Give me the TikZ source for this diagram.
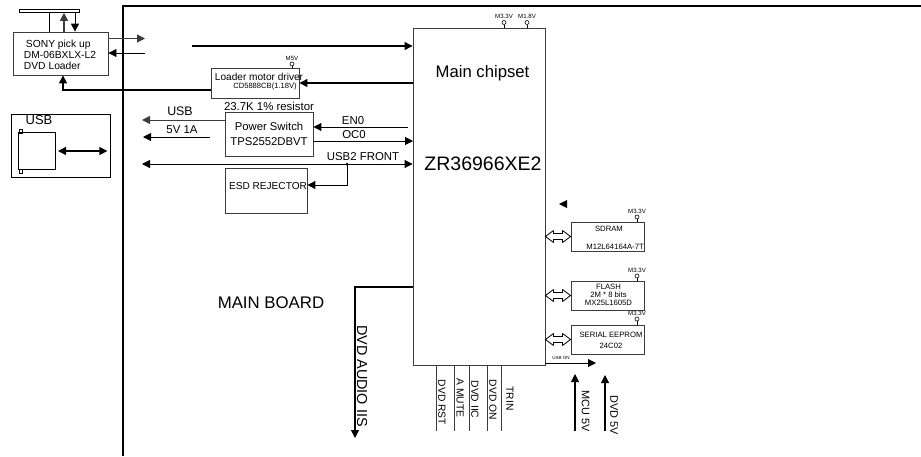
\documentclass[tikz,border=0pt]{standalone}
\usepackage{fontspec}
\setmainfont{Liberation Sans}
\usetikzlibrary{arrows.meta, positioning, calc}
\definecolor{boxgray}{RGB}{60, 60, 60}
\tikzset{
    blockbox/.style={draw=boxgray, line width=0.9pt, inner sep=0pt, align=center},
    pinmark/.style={circle, draw=black, line width=0.6pt, minimum size=4pt, inner sep=0pt},
    pintext/.style={inner sep=0pt, font=\fontsize{6.1}{7}\selectfont},
    labeltext/.style={inner sep=0pt, font=\fontsize{11.4}{13}\selectfont},
    memtext/.style={inner sep=0pt, align=center, font=\fontsize{7.7}{8}\selectfont},
    sidetext/.style={inner sep=0pt, rotate=-90, font=\fontsize{10.3}{12}\selectfont},
    sigline/.style={line width=1pt, -{Triangle[length=8pt, width=8pt]}},
    sigboth/.style={line width=1pt, {Triangle[length=8pt, width=8pt]}-{Triangle[length=8pt, width=8pt]}},
    busarrow/.style={draw=black, fill=white, line width=0.8pt, miter limit=2},
    plainline/.style={line width=0.8pt}
}

\begin{document}
\begin{tikzpicture}[x=1pt, y=-1pt]
    \useasboundingbox (0, 0) rectangle (921, 456);

    % Main board frame
    \coordinate (frametop) at (921, 6);
    \coordinate (framecorner) at (123, 6);
    \coordinate (framebottom) at (123, 456);
    \draw[line width=1.3pt] (frametop) -- (framecorner) -- (framebottom);
    \node[inner sep=0pt, font=\fontsize{16.8}{19}\selectfont] (mainboard) at (271, 303) {MAIN BOARD};

    % Main chipset
    \node[blockbox, minimum width=132pt, minimum height=337pt] (chip) at (479, 196.5) {};
    \node[inner sep=0pt, font=\fontsize{16.7}{19}\selectfont] (chipname) at (482.5, 73) {Main chipset};
    \node[inner sep=0pt, font=\fontsize{19.5}{22}\selectfont] (chipcode) at (483, 164) {ZR36966XE2};

    \node[pinmark] (pin33) at (504, 22.5) {};
    \node[pinmark] (pin18) at (527, 22.5) {};
    \node[pintext, above=1pt of pin33] (pin33text) {M3.3V};
    \node[pintext, above=1pt of pin18] (pin18text) {M1.8V};
    \draw[plainline] (pin33) -- (pin33 |- chip.north);
    \draw[plainline] (pin18) -- (pin18 |- chip.north);

    % DVD loader
    \node[blockbox, line width=0.8pt, minimum width=95pt, minimum height=43pt] (sony) at (60.5, 53.5) {};
    \node[inner sep=0pt, align=left, font=\fontsize{10.3}{11}\selectfont] (sonytext) at (60, 55) {
        \hspace*{2pt}SONY pick up\\DM-06BXLX-L2\\DVD Loader};
    \node[draw, line width=0.6pt, minimum width=60pt, minimum height=3pt, inner sep=0pt] (tray) at (49, 11) {};
    \coordinate (traybar) at (49.5, 20);
    \coordinate (trayup) at (64, 20);
    \coordinate (traydown) at (75, 20);
    \draw[plainline] (traybar |- tray.south) -- (traybar |- sony.north);
    \draw[sigline, draw=boxgray, line width=1.2pt] (trayup |- sony.north) -- (trayup |- tray.south);
    \draw[sigline] (traydown |- tray.south) -- (traydown |- sony.north);

    \coordinate (sonyout) at (145, 38.5);
    \coordinate (sonyin) at (145, 53);
    \coordinate (dvdfree) at (192, 46);
    \draw[sigline, draw=boxgray] (sonyout -| sony.east) -- (sonyout);
    \draw[sigline, line width=0.7pt] (sonyin) -- (sonyin -| sony.east);
    \draw[sigline, line width=1.2pt] (dvdfree) -- (dvdfree -| chip.west);

    % Loader motor driver
    \node[blockbox, minimum width=88pt, minimum height=30pt] (loader) at (255, 83) {};
    \node[inner sep=0pt, font=\fontsize{10.1}{12}\selectfont] (loadertext) at (259, 77) {Loader motor driver};
    \node[inner sep=0pt, font=\fontsize{7.6}{9}\selectfont] (loadercode) at (265, 87) {CD5888CB(1.18V)};
    \node[pinmark] (pin5) at (292, 64) {};
    \node[pintext, above=0.5pt of pin5] (pin5text) {M5V};
    \draw[plainline] (pin5) -- (pin5 |- loader.north);
    \coordinate (loaderin) at (350, 83);
    \coordinate (loaderout) at (180, 90);
    \coordinate (sonyfeed) at (63, 60);
    \draw[sigline, line width=1.2pt] (loaderin -| chip.west) -- (loaderin -| loader.east);
    \draw[sigline, line width=1.2pt] (loaderout -| loader.west) -| (sonyfeed |- sony.south);

    % USB connector
    \node[blockbox, draw=black, line width=0.7pt, minimum width=99pt, minimum height=63pt] (usbbox) at (60.5, 145.5) {};
    \node[inner sep=0pt, font=\fontsize{13}{15}\selectfont] (usbtext) at (39, 120) {USB};
    \node[blockbox, draw=black, line width=0.6pt, minimum width=37pt, minimum height=37pt] (usbplug) at (36.5, 150.5) {};
    \node[draw, line width=0.5pt, minimum size=3.5pt, inner sep=0pt] (usbpintop) at (20.5, 131) {};
    \node[draw, line width=0.5pt, minimum size=3.5pt, inner sep=0pt] (usbpinbot) at (20.5, 171) {};
    \coordinate (usbflow) at (58, 151);
    \draw[sigboth, line width=1.2pt] (usbflow) -- ([xshift=-3pt]usbflow -| usbbox.east);

    % Power switch
    \node[blockbox, minimum width=88pt, minimum height=44pt,
          font=\fontsize{11.3}{15}\selectfont] (power) at (269, 134) {Power Switch\\TPS2552DBVT};
    \node[labeltext, above=0.5pt of power] (resistor) {23.7K 1\% resistor};
    \coordinate (usbout) at (142, 120);
    \coordinate (vbusfree) at (210, 137);
    \coordinate (vbusend) at (143, 137);
    \draw[sigline, draw=boxgray] (usbout -| power.west) -- (usbout);
    \draw[sigline] (vbusfree) -- (vbusend);
    \node[inner sep=0pt, font=\fontsize{12.4}{14}\selectfont] (usblabel) at (180, 111) {USB};
    \node[labeltext] (vbuslabel) at (182, 130) {5V 1A};

    \coordinate (enfree) at (408, 127);
    \coordinate (ocend) at (413, 141);
    \draw[sigline] (enfree) -- (enfree -| power.east);
    \draw[sigline] (ocend -| power.east) -- (ocend);
    \node[labeltext] (enlabel) at (353, 121) {EN0};
    \node[labeltext] (oclabel) at (354, 135) {OC0};

    % USB2 front and ESD
    \coordinate (frontfree) at (142, 164);
    \coordinate (frontdot) at (347, 164);
    \coordinate (esdfeed) at (330, 185);
    \draw[sigboth] (frontfree) -- (frontfree -| chip.west);
    \node[labeltext] (frontlabel) at (363, 157) {USB2 FRONT};
    \node[blockbox, minimum width=82pt, minimum height=45pt] (esd) at (266, 190.5) {};
    \node[inner sep=0pt, font=\fontsize{10.1}{12}\selectfont] (esdtext) at (268, 186) {ESD REJECTOR};
    \fill (frontdot) circle (1.5pt);
    \draw[sigline] (frontdot) |- (esdfeed -| esd.east);

    % Memories
    \node[blockbox, minimum width=73pt, minimum height=29pt] (sdram) at (607.5, 236.5) {};
    \node[memtext] (sdramtext) at (609, 229) {SDRAM};
    \node[memtext, anchor=east] (sdramcode) at (644, 247) {M12L64164A-7T};
    \node[blockbox, minimum width=73pt, minimum height=29pt] (flash) at (607.5, 295.5) {};
    \node[memtext] (flashtext) at (608.5, 295) {FLASH\\2M * 8 bits\\MX25L1605D};
    \node[blockbox, minimum width=73pt, minimum height=29pt] (eeprom) at (607.5, 339.5) {};
    \node[memtext, font=\fontsize{7.7}{11}\selectfont] (eepromtext) at (611, 340.5) {SERIAL EEPROM\\24C02};

    \foreach \name/\ypin in {sdram/217, flash/276, eeprom/319} {
        \node[pinmark] (\name pin) at (637, \ypin) {};
        \node[pintext, above=0.5pt of \name pin] (\name pintext) {M3.3V};
        \draw[plainline] (\name pin) -- (\name pin |- \name.north);
        \coordinate (busstart) at (chip.east |- \name.west);
        \draw[busarrow] (busstart) -- ++(8, -6) -- ++(0, 3) -- ($(\name.west) + (-8, -3)$) -- ++(0, -3)
            -- (\name.west) -- ++(-8, 6) -- ++(0, -3) -- ($(busstart) + (8, 3)$) -- ++(0, 3) -- cycle;
    }
    % Loose arrow head
    \fill (559, 204) -- (567, 200) -- (567, 208) -- cycle;

    % Bottom signals
    \foreach \xsig/\xtext/\sig/\ytext in {436/442/DVD RST/402.5, 454/460/A MUTE/398, 469/475/DVD IIC/399.5, 487/493/DVD ON/400, 501/510/TRIN/398.5} {
        \coordinate (sigend) at (\xsig, 431);
        \draw[plainline, draw=boxgray] (sigend |- chip.south) -- (sigend);
        \node[sidetext] at (\xtext, \ytext) {\sig};
    }
    \coordinate (audiostart) at (355, 287);
    \coordinate (audioend) at (355, 438);
    \draw[sigline, line width=1.2pt] (audiostart -| chip.west) -- (audiostart) -- (audioend);
    \node[sidetext, font=\fontsize{14.4}{16}\selectfont] (audiotext) at (362, 376) {DVD AUDIO IIS};

    \coordinate (usbon) at (596, 363);
    \draw[sigline] (usbon -| chip.east) -- (usbon);
    \node[inner sep=0pt, font=\fontsize{4.5}{5}\selectfont] (usbontext) at (561, 358) {USB ON};

    \coordinate (mcufree) at (575, 431);
    \coordinate (mcuend) at (575, 374);
    \coordinate (dvdpfree) at (605, 431);
    \coordinate (dvdpend) at (605, 375);
    \draw[sigline, line width=1.1pt] (mcufree) -- (mcuend);
    \draw[sigline, line width=1.1pt] (dvdpfree) -- (dvdpend);
    \node[sidetext, font=\fontsize{10.9}{12}\selectfont] (mcutext) at (585.5, 411.5) {MCU 5V};
    \node[sidetext, font=\fontsize{10.9}{12}\selectfont] (dvdptext) at (614, 415) {DVD 5V};
\end{tikzpicture}
\end{document}
